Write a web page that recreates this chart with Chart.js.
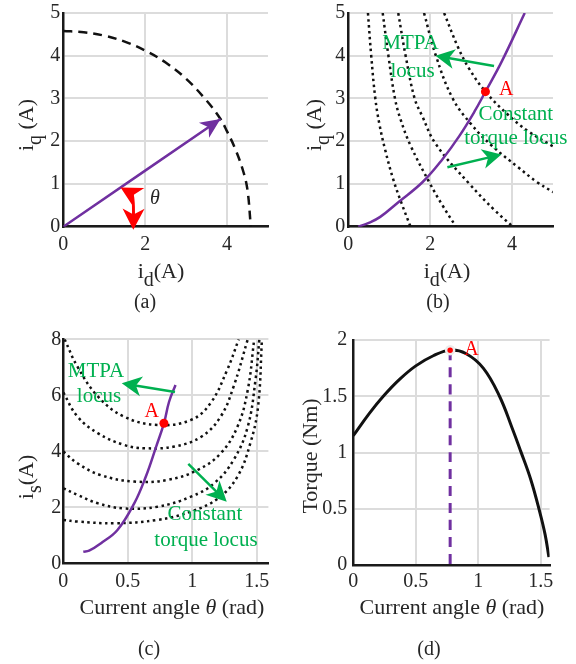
<!DOCTYPE html>
<html>
<head>
<meta charset="utf-8">
<script src="https://cdn.jsdelivr.net/npm/chart.js@4.4.1/dist/chart.umd.min.js"></script>
<style>
  body { margin: 0; background: #fff; width: 576px; height: 664px; position: relative; overflow: hidden; }
  canvas { position: absolute; }
</style>
</head>
<body>
<canvas id="pa" width="288" height="320" style="left:0;top:0"></canvas>
<canvas id="pb" width="288" height="320" style="left:288px;top:0"></canvas>
<canvas id="pc" width="288" height="344" style="left:0;top:320px"></canvas>
<canvas id="pd" width="288" height="344" style="left:288px;top:320px"></canvas>
<script>
// ---- (a) current vector on the current-limit circle ----
const circleId = [0, 0.5, 1, 1.5, 2, 2.5, 3, 3.5, 3.84, 4, 4.2, 4.4, 4.5, 4.58];
const circleIq = [4.58, 4.55, 4.47, 4.33, 4.12, 3.84, 3.46, 2.95, 2.52, 2.23, 1.82, 1.28, 0.85, 0];
const vecId = [0, 3.84];
const vecIq = [0, 2.52];
const thetaArc = [[1.4, 0.92], [1.72, 0.75], [1.71, -0.07]]; // start, bend, end
const thetaLabel = [2.24, 0.66];

// ---- (b) MTPA locus and constant torque loci in the id-iq plane ----
const mtpaBId = [0.24, 0.5, 0.78, 1.23, 1.81, 2.3, 2.71, 3.08, 3.35, 3.74, 4.31];
const mtpaBIq = [0, 0.09, 0.23, 0.58, 1.04, 1.58, 2.12, 2.69, 3.16, 3.85, 5.0];
const torqueBId = [
  [0.48, 0.56, 0.66, 0.76, 0.9, 1.1, 1.3, 1.52],
  [0.84, 0.98, 1.14, 1.28, 1.52, 2.0, 2.3, 2.63],
  [1.22, 1.4, 1.62, 1.8, 2.14, 2.96, 3.57, 4.02],
  [1.85, 2.14, 2.55, 3.0, 3.5, 4.15, 4.6, 5.0],
  [2.34, 2.68, 2.95, 3.35, 3.9, 4.4, 5.0]
];
const torqueBIq = [
  [5, 4, 3, 2.4, 1.8, 1.1, 0.55, 0],
  [5, 4, 3, 2.5, 1.9, 1.0, 0.5, 0],
  [5, 4, 3, 2.6, 1.93, 1.0, 0.39, 0],
  [5, 4, 3, 2.4, 1.9, 1.39, 1.05, 0.81],
  [5, 4.2, 3.7, 3.16, 2.62, 2.23, 1.88]
];
const pointAB = [3.35, 3.16];

// ---- (c) current magnitude vs current angle ----
const torqueCTh = [
  [0.01, 0.11, 0.27, 0.47, 0.73, 0.99, 1.14, 1.27, 1.36],
  [0, 0.11, 0.27, 0.47, 0.63, 0.86, 1.07, 1.22, 1.32, 1.43],
  [0, 0.11, 0.29, 0.55, 0.81, 1.04, 1.22, 1.35, 1.43, 1.48],
  [0, 0.11, 0.27, 0.47, 0.73, 0.99, 1.17, 1.32, 1.43, 1.49, 1.52],
  [0, 0.11, 0.4, 0.73, 0.99, 1.2, 1.35, 1.45, 1.51, 1.54]
];
const torqueCIs = [
  [8.0, 7.02, 5.95, 5.24, 4.94, 5.12, 5.71, 6.9, 8.0],
  [6.1, 5.24, 4.64, 4.23, 4.11, 4.17, 4.52, 5.24, 6.31, 8.0],
  [3.99, 3.57, 3.15, 2.92, 2.98, 3.33, 3.93, 4.88, 6.19, 8.0],
  [2.68, 2.44, 2.14, 1.96, 2.02, 2.38, 2.86, 3.69, 4.88, 6.55, 8.0],
  [1.55, 1.49, 1.43, 1.55, 1.85, 2.32, 3.1, 4.29, 5.6, 8.0]
];
const mtpaCTh = [0.155, 0.2, 0.29, 0.42, 0.55, 0.64, 0.72, 0.78, 0.82, 0.87];
const mtpaCIs = [0.41, 0.45, 0.71, 1.19, 2.14, 3.1, 4.17, 5.0, 5.77, 6.37];
const pointAC = [0.78, 5.0];

// ---- (d) torque vs current angle ----
const thetaD = [0, 0.13, 0.24, 0.37, 0.5, 0.64, 0.775, 0.9, 1.04, 1.17, 1.27, 1.34, 1.42, 1.49, 1.535, 1.565];
const torqueD = [1.149, 1.35, 1.5, 1.65, 1.77, 1.86, 1.91, 1.88, 1.75, 1.5, 1.22, 1.01, 0.76, 0.48, 0.27, 0.07];
const pointAD = [0.775, 1.91];

const TXT = '#262626', GREEN = '#00b050', RED = '#ff0000', PURPLE = '#7030a0';
const FAM = "'Liberation Serif', 'Times New Roman', serif";
Chart.defaults.font.family = FAM;
Chart.defaults.color = TXT;

const pts = (xs, ys) => xs.map((x, i) => ({ x, y: ys[i] }));

// extra drawing (arrows, labels, axis titles with subscripts), per canvas
const decor = {
  pa: {
    arrows: [
      { from: [vecId[0], vecIq[0]], to: [vecId[1], vecIq[1]], color: PURPLE, shaft: false, len: 20, hw: 9 },
      { from: thetaArc[0], ctrl: thetaArc[1], to: thetaArc[2], color: RED, width: 3, len: 21, hw: 11, both: true }
    ],
    texts: [{ t: 'θ', at: thetaLabel, color: TXT, size: 20, italic: true }],
    titles: [
      { parts: [['i', ''], ['q', 'sub'], [' (A)', '']], x: 25, y: 125, rot: true },
      { parts: [['i', ''], ['d', 'sub'], ['(A)', '']], x: 161, y: 270 },
      { parts: [['(a)', '']], x: 145, y: 301, size: 20 }
    ]
  },
  pb: {
    arrows: [
      { from: [3.56, 3.76], to: [2.13, 4.0], color: GREEN, width: 2.5, len: 19, hw: 10 },
      { from: [2.42, 1.39], to: [3.74, 1.69], color: GREEN, width: 2.5, len: 19, hw: 10 }
    ],
    texts: [
      { t: 'MTPA', at: [1.52, 4.29], color: GREEN },
      { t: 'locus', at: [1.57, 3.64], color: GREEN },
      { t: 'A', at: [3.86, 3.2], color: RED, size: 20 },
      { t: 'Constant', at: [4.09, 2.62], color: GREEN },
      { t: 'torque locus', at: [4.09, 2.07], color: GREEN }
    ],
    titles: [
      { parts: [['i', ''], ['q', 'sub'], [' (A)', '']], x: 25, y: 125, rot: true },
      { parts: [['i', ''], ['d', 'sub'], ['(A)', '']], x: 159, y: 270 },
      { parts: [['(b)', '']], x: 150, y: 301, size: 20 }
    ]
  },
  pc: {
    arrows: [
      { from: [0.866, 6.12], to: [0.453, 6.43], color: GREEN, width: 2.5, len: 20, hw: 10 },
      { from: [0.969, 3.55], to: [1.267, 2.2], color: GREEN, width: 2.5, len: 20, hw: 10 }
    ],
    texts: [
      { t: 'MTPA', at: [0.254, 6.84], color: GREEN },
      { t: 'locus', at: [0.277, 5.95], color: GREEN },
      { t: 'A', at: [0.685, 5.41], color: RED, size: 20 },
      { t: 'Constant', at: [1.098, 1.73], color: GREEN },
      { t: 'torque locus', at: [1.106, 0.83], color: GREEN }
    ],
    titles: [
      { parts: [['i', ''], ['s', 'sub'], ['(A)', '']], x: 25, y: 157, rot: true },
      { parts: [['Current angle ', ''], ['θ', 'it'], [' (rad)', '']], x: 172, y: 286 },
      { parts: [['(c)', '']], x: 149, y: 328, size: 20 }
    ]
  },
  pd: {
    arrows: [],
    texts: [{ t: 'A', at: [0.945, 1.91], color: RED, size: 20 }],
    titles: [
      { parts: [['Torque (Nm)', '']], x: 21, y: 136, rot: true },
      { parts: [['Current angle ', ''], ['θ', 'it'], [' (rad)', '']], x: 164, y: 286 },
      { parts: [['(d)', '']], x: 141, y: 328, size: 20 }
    ]
  }
};

function head(ctx, tip, ang, len, hw) {
  const c = Math.cos(ang), s = Math.sin(ang);
  const bx = tip[0] - len * c, by = tip[1] - len * s;
  ctx.beginPath();
  ctx.moveTo(tip[0], tip[1]);
  ctx.lineTo(bx - hw * s, by + hw * c);
  ctx.lineTo(tip[0] - 0.72 * len * c, tip[1] - 0.72 * len * s);
  ctx.lineTo(bx + hw * s, by - hw * c);
  ctx.closePath();
  ctx.fill();
}

function rich(ctx, parts, cx, cy, rot, size) {
  const fontOf = st => (st === 'it' ? 'italic ' : '') + (st === 'sub' ? Math.round(size * 0.9) : size) + 'px ' + FAM;
  ctx.save();
  ctx.translate(cx, cy);
  if (rot) ctx.rotate(-Math.PI / 2);
  let w = 0;
  parts.forEach(p => { ctx.font = fontOf(p[1]); w += ctx.measureText(p[0]).width; });
  let x = -w / 2;
  ctx.fillStyle = TXT;
  ctx.textBaseline = 'alphabetic';
  ctx.textAlign = 'left';
  parts.forEach(p => {
    ctx.font = fontOf(p[1]);
    const base = size * 0.35 + (p[1] === 'sub' ? size * 0.36 : 0);
    ctx.fillText(p[0], x, base);
    x += ctx.measureText(p[0]).width;
  });
  ctx.restore();
}

const decoPlugin = {
  id: 'decoPlugin',
  afterDatasetsDraw(chart) {
    const d = decor[chart.canvas.id];
    if (!d) return;
    const ctx = chart.ctx, sx = chart.scales.x, sy = chart.scales.y;
    const P = p => [sx.getPixelForValue(p[0]), sy.getPixelForValue(p[1])];
    ctx.save();
    d.arrows.forEach(a => {
      const a0 = P(a.from), a1 = P(a.to), c = a.ctrl ? P(a.ctrl) : null;
      const angEnd = c ? Math.atan2(a1[1] - c[1], a1[0] - c[0]) : Math.atan2(a1[1] - a0[1], a1[0] - a0[0]);
      const angStart = c ? Math.atan2(a0[1] - c[1], a0[0] - c[0]) : angEnd + Math.PI;
      ctx.strokeStyle = a.color;
      ctx.fillStyle = a.color;
      ctx.lineWidth = a.width || 2.5;
      if (a.shaft !== false) {
        const back = (p, ang) => [p[0] - 0.6 * a.len * Math.cos(ang), p[1] - 0.6 * a.len * Math.sin(ang)];
        const e = back(a1, angEnd);
        const s = a.both ? back(a0, angStart) : a0;
        ctx.beginPath();
        ctx.moveTo(s[0], s[1]);
        if (c) ctx.quadraticCurveTo(c[0], c[1], e[0], e[1]); else ctx.lineTo(e[0], e[1]);
        ctx.stroke();
      }
      head(ctx, a1, angEnd, a.len, a.hw);
      if (a.both) head(ctx, a0, angStart, a.len, a.hw);
    });
    d.texts.forEach(t => {
      const p = P(t.at);
      ctx.font = (t.italic ? 'italic ' : '') + (t.size || 21) + 'px ' + FAM;
      ctx.fillStyle = t.color;
      ctx.textAlign = 'center';
      ctx.textBaseline = 'middle';
      ctx.fillText(t.t, p[0], p[1]);
    });
    ctx.restore();
  },
  afterDraw(chart) {
    const d = decor[chart.canvas.id];
    if (!d) return;
    d.titles.forEach(t => rich(chart.ctx, t.parts, t.x, t.y, t.rot, t.size || 22));
  }
};
Chart.register(decoPlugin);

const fmt = v => String(Math.round(v * 100) / 100);

function axisX(min, max, step, pad) {
  return {
    type: 'linear', min, max,
    ticks: { stepSize: step, includeBounds: false, padding: pad, autoSkip: false, maxRotation: 0,
             callback: fmt, color: TXT, font: { size: 20, lineHeight: 1 } },
    grid: { color: '#dcdcdc', lineWidth: 2, drawTicks: false },
    border: { color: '#1a1a1a', width: 2.5 },
    afterFit: s => { s.height = 40; }
  };
}
function axisY(min, max, step, width, pad) {
  return {
    type: 'linear', min, max,
    ticks: { stepSize: step, includeBounds: false, padding: pad, autoSkip: false,
             callback: fmt, color: TXT, font: { size: 20, lineHeight: 1 } },
    grid: { color: '#dcdcdc', lineWidth: 2, drawTicks: false },
    border: { color: '#1a1a1a', width: 2.5 },
    afterFit: s => { s.width = width; }
  };
}

// area: [left, top, right, bottom] of the plot box inside the canvas
function makeChart(id, datasets, xs, ys, area, H) {
  new Chart(document.getElementById(id), {
    type: 'scatter',
    data: { datasets },
    options: {
      responsive: false,
      animation: false,
      events: [],
      layout: { autoPadding: false,
                padding: { left: 0, top: area[1], right: 288 - area[2], bottom: H - area[3] - 40 } },
      plugins: { legend: { display: false }, tooltip: { enabled: false } },
      scales: { x: xs, y: ys }
    }
  });
}

const curve = (data, color, width, dash) => ({
  data, showLine: true, borderColor: color, borderWidth: width, borderDash: dash || [],
  pointRadius: 0, fill: false, tension: 0.4
});
const dot = (p, r, border) => ({
  data: [{ x: p[0], y: p[1] }], showLine: false, pointRadius: r, backgroundColor: RED,
  borderColor: border || RED, borderWidth: border ? 2.5 : 0
});
const DOTTED = [2.5, 3.5];

makeChart('pa', [
  curve(pts(vecId, vecIq), PURPLE, 2.5),
  curve(pts(circleId, circleIq), '#111', 2.5, [9, 6])
], axisX(0, 5, 2, 8), axisY(0, 5, 1, 63.3, 3), [63.3, 10, 268, 226.7], 320);

makeChart('pb', [
  dot(pointAB, 4.5),
  curve(pts(mtpaBId, mtpaBIq), PURPLE, 2.5),
  ...torqueBId.map((xs, i) => curve(pts(xs, torqueBIq[i]), '#111', 2.5, DOTTED))
], axisX(0, 5, 2, 8), axisY(0, 5, 1, 60.3, 3), [60.3, 10, 265, 226.7], 320);

makeChart('pc', [
  dot(pointAC, 4.5),
  curve(pts(mtpaCTh, mtpaCIs), PURPLE, 2.5),
  ...torqueCTh.map((xs, i) => curve(pts(xs, torqueCIs[i]), '#111', 2.5, DOTTED))
], axisX(0, 1.59, 0.5, 8), axisY(0, 8, 2, 63.3, 2), [63.3, 19.3, 268.4, 243.3], 344);

makeChart('pd', [
  dot(pointAD, 4, '#ececec'),
  curve([{ x: pointAD[0], y: pointAD[1] }, { x: pointAD[0], y: 0 }], PURPLE, 3, [10, 7]),
  curve(pts(thetaD, torqueD), '#111', 3)
], axisX(0, Math.PI / 2, 0.5, 7), axisY(0, 2, 0.5, 65.3, 6), [65.3, 20, 261.6, 245], 344);
</script>
</body>
</html>
